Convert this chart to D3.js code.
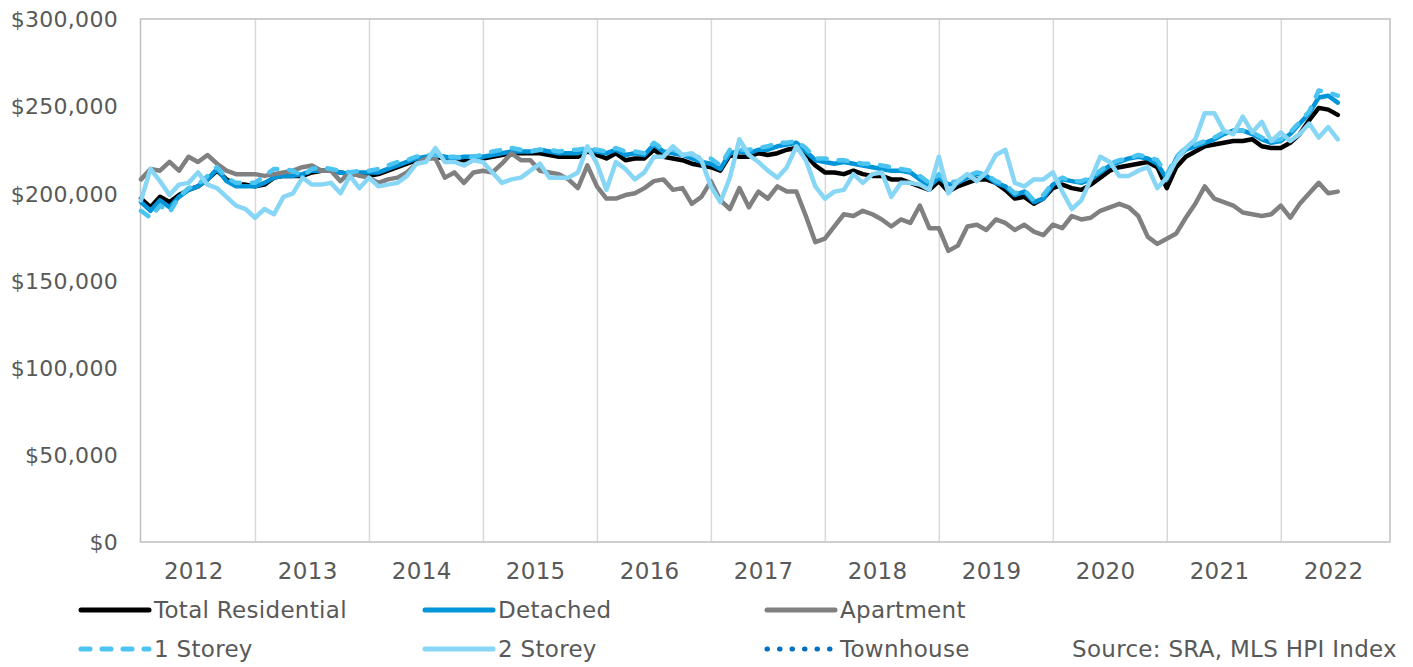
<!DOCTYPE html>
<html>
<head>
<meta charset="utf-8">
<script src="https://cdn.jsdelivr.net/npm/d3@7"></script>
<style>
  body { margin: 0; background: #fff; }
  text { font-family: "DejaVu Sans", Verdana, sans-serif; font-size: 23px; letter-spacing: 0.3px; fill: #595959; }
</style>
</head>
<body>
<svg id="chart" width="1413" height="667"></svg>
<script>
// monthly index values, $ thousands, Jan 2012 - Jul 2022
const years = [2012, 2013, 2014, 2015, 2016, 2017, 2018, 2019, 2020, 2021, 2022];
const yTicks = [0, 50, 100, 150, 200, 250, 300];

const totalResidential = [
  197, 192, 198, 195, 199, 202, 204, 208, 213, 208, 205, 205,
  204, 205, 209, 210, 210, 210, 212, 213, 213, 212, 211, 211,
  210, 211, 213, 215, 217, 219, 220, 221, 220, 219, 219, 220,
  220, 221, 222, 223, 223, 223, 223, 222, 221, 221, 221, 224,
  222, 220, 223, 219, 220, 220, 225, 221, 220, 219, 217, 216,
  215, 213, 222, 221, 221, 223, 222, 223, 225, 226, 222, 216,
  212, 212, 211, 213, 211, 210, 210, 208, 208, 206, 204, 202,
  207, 201, 204, 206, 208, 208, 206, 202, 197, 198, 194, 197,
  203, 205, 203, 202, 205, 209, 213, 215, 216, 217, 218, 215,
  203, 215, 221, 224, 227, 228, 229, 230, 230, 231, 227, 226,
  226, 229, 234, 242, 249, 248, 245
];
const detached = [
  195, 190, 196, 192, 198, 202, 204, 208, 214, 207, 204, 204,
  204, 206, 209, 210, 210, 211, 213, 213, 213, 212, 211, 212,
  212, 212, 214, 216, 218, 220, 221, 222, 221, 220, 221, 221,
  221, 222, 223, 224, 224, 224, 225, 224, 223, 223, 223, 225,
  224, 223, 225, 222, 223, 222, 228, 224, 223, 222, 220, 218,
  217, 214, 223, 224, 223, 225, 225, 227, 228, 229, 224, 219,
  218, 217, 218, 217, 216, 215, 214, 213, 213, 212, 208, 204,
  209, 205, 206, 209, 211, 210, 206, 204, 199, 201, 195, 197,
  205, 208, 207, 206, 208, 212, 216, 218, 220, 221, 220, 217,
  208, 220, 225, 227, 229, 231, 234, 236, 236, 234, 231, 229,
  230, 234, 240, 246, 255, 256, 252
];
const apartment = [
  208, 214, 213, 218, 213, 221, 218, 222, 217, 213, 211, 211,
  211, 210, 211, 212, 213, 215, 216, 213, 213, 207, 212, 210,
  209, 206, 208, 209, 212, 217, 220, 220, 209, 212, 206, 212,
  213, 212, 217, 223, 219, 219, 213, 212, 211, 208, 203, 216,
  204, 197, 197, 199, 200, 203, 207, 208, 202, 203, 194, 198,
  207, 196, 191, 203, 192, 201, 197, 204, 201, 201, 187, 172,
  174, 181, 188, 187, 190, 188, 185, 181, 185, 183, 193, 180,
  180, 167, 170, 181, 182, 179, 185, 183, 179, 182, 178, 176,
  182, 180, 187, 185, 186, 190, 192, 194, 192, 187, 175, 171,
  174, 177, 186, 194, 204, 197, 195, 193, 189, 188, 187, 188,
  193, 186, 194, 200, 206, 200, 201
];
const oneStorey = [
  190, 186, 193, 189, 198, 203, 205, 210, 215, 209, 206, 206,
  206, 210, 214, 214, 213, 210, 214, 215, 214, 213, 212, 213,
  213, 214, 216, 218, 219, 221, 222, 222, 221, 221, 220, 221,
  222, 224, 225, 226, 225, 224, 225, 225, 224, 225, 225, 226,
  225, 224, 226, 224, 224, 223, 229, 225, 225, 223, 222, 220,
  220, 216, 225, 225, 225, 226, 227, 229, 229, 230, 226, 220,
  220, 219, 219, 218, 217, 217, 216, 215, 214, 213, 210, 206,
  211, 206, 207, 210, 212, 211, 207, 205, 200, 202, 196, 199,
  206, 209, 207, 207, 209, 213, 217, 219, 220, 222, 221, 219,
  211, 221, 226, 228, 230, 232, 235, 236, 236, 235, 232, 230,
  231, 235, 241, 247, 259, 258, 256
];
const twoStorey = [
  196, 214, 207, 199, 205, 206, 212, 205, 203, 198, 193, 191,
  186, 191, 188, 198, 200, 209, 205, 205, 206, 200, 210, 203,
  209, 204, 205, 206, 210, 217, 218, 226, 218, 218, 216, 219,
  218, 212, 206, 208, 209, 213, 217, 209, 209, 209, 212, 227,
  217, 202, 218, 214, 208, 212, 221, 221, 227, 222, 223, 219,
  204, 195, 209, 231, 222, 218, 213, 209, 215, 227, 219, 204,
  197, 201, 202, 211, 206, 211, 212, 198, 206, 206, 205, 202,
  221, 200, 207, 211, 207, 212, 222, 225, 206, 204, 208, 208,
  212, 201, 191, 196, 208, 221, 218, 210, 210, 213, 215, 203,
  209, 219, 226, 231, 246, 246, 236, 234, 244, 235, 241, 230,
  235, 230, 234, 240, 232, 238, 231
];
const townhouse = [];

const series = [
  {name: "Total Residential", values: totalResidential, color: "#000000", dash: null},
  {name: "Detached", values: detached, color: "#0094D8", dash: null},
  {name: "Apartment", values: apartment, color: "#808080", dash: null},
  {name: "1 Storey", values: oneStorey, color: "#4CC4F2", dash: "9,12"},
  {name: "2 Storey", values: twoStorey, color: "#88D6F6", dash: null},
  {name: "Townhouse", values: townhouse, color: "#0070C0", dash: "0.5,12"}
];

const width = 1413, height = 667;
let padding = {top: 19, right: 23, bottom: 125, left: 141};
const svg = d3.select("#chart");

let x = d3.scaleLinear()
  .domain([0, 131.5])
  .range([padding.left, width - padding.right]);
let y = d3.scaleLinear()
  .domain([0, 300])
  .range([height - padding.bottom, padding.top]);

// vertical gridlines at each year start
svg.append("g")
  .attr("transform", "translate(0," + (height - padding.bottom) + ")")
  .call(d3.axisBottom(x)
    .tickValues(years.slice(1).map((d, i) => (i + 1) * 12))
    .tickSize(-(height - padding.bottom - padding.top))
    .tickFormat(""))
  .call(g => g.select(".domain").remove())
  .call(g => g.selectAll("line").attr("stroke", "#D9D9D9").attr("stroke-width", 1.5));

// plot frame
svg.append("rect")
  .attr("x", padding.left - 0.5)
  .attr("y", padding.top)
  .attr("width", width - padding.right - padding.left + 0.5)
  .attr("height", height - padding.bottom - padding.top)
  .attr("fill", "none")
  .attr("stroke", "#BFBFBF")
  .attr("stroke-width", 1.5);

// y axis labels
svg.append("g")
  .attr("transform", "translate(" + padding.left + ",0)")
  .call(d3.axisLeft(y)
    .tickValues(yTicks)
    .tickSize(0)
    .tickPadding(23)
    .tickFormat(d => "$" + d3.format(",")(d * 1000)))
  .call(g => g.select(".domain").remove())
  .call(g => g.selectAll("text").attr("dy", "0.35em").style("font-size", "22px"));

// year labels
svg.append("g")
  .attr("transform", "translate(0," + (height - padding.bottom) + ")")
  .call(d3.axisBottom(x)
    .tickValues(years.map((d, i) => i * 12 + 5.5))
    .tickSize(0)
    .tickPadding(21)
    .tickFormat((d, i) => years[i]))
  .call(g => g.select(".domain").remove())
  .call(g => g.selectAll("text").style("font-size", "23px"));

// lines
const line = d3.line()
  .x((d, i) => x(i))
  .y(d => y(d));

svg.selectAll(".series")
  .data(series.filter(s => s.values.length))
  .join("path")
    .attr("class", "series")
    .attr("fill", "none")
    .attr("stroke", d => d.color)
    .attr("stroke-width", 4.5)
    .attr("stroke-linejoin", "round")
    .attr("stroke-linecap", "round")
    .attr("stroke-dasharray", d => d.dash)
    .attr("d", d => line(d.values));

// legend
const legendCols = [81, 425, 767];
const legendRows = [610, 649];
const legend = svg.append("g");
series.forEach(function(s, i) {
  const lx = legendCols[i % 3], ly = legendRows[Math.floor(i / 3)];
  legend.append("line")
    .attr("x1", lx).attr("x2", lx + 68)
    .attr("y1", ly).attr("y2", ly)
    .attr("stroke", s.color)
    .attr("stroke-width", 5)
    .attr("stroke-linecap", "round")
    .attr("stroke-dasharray", s.dash);
  legend.append("text")
    .attr("x", lx + 73)
    .attr("y", ly)
    .attr("dy", "0.35em")
    .text(s.name);
});

svg.append("text")
  .attr("x", 1397)
  .attr("y", 649)
  .attr("dy", "0.35em")
  .attr("text-anchor", "end")
  .text("Source: SRA, MLS HPI Index");
</script>
</body>
</html>
